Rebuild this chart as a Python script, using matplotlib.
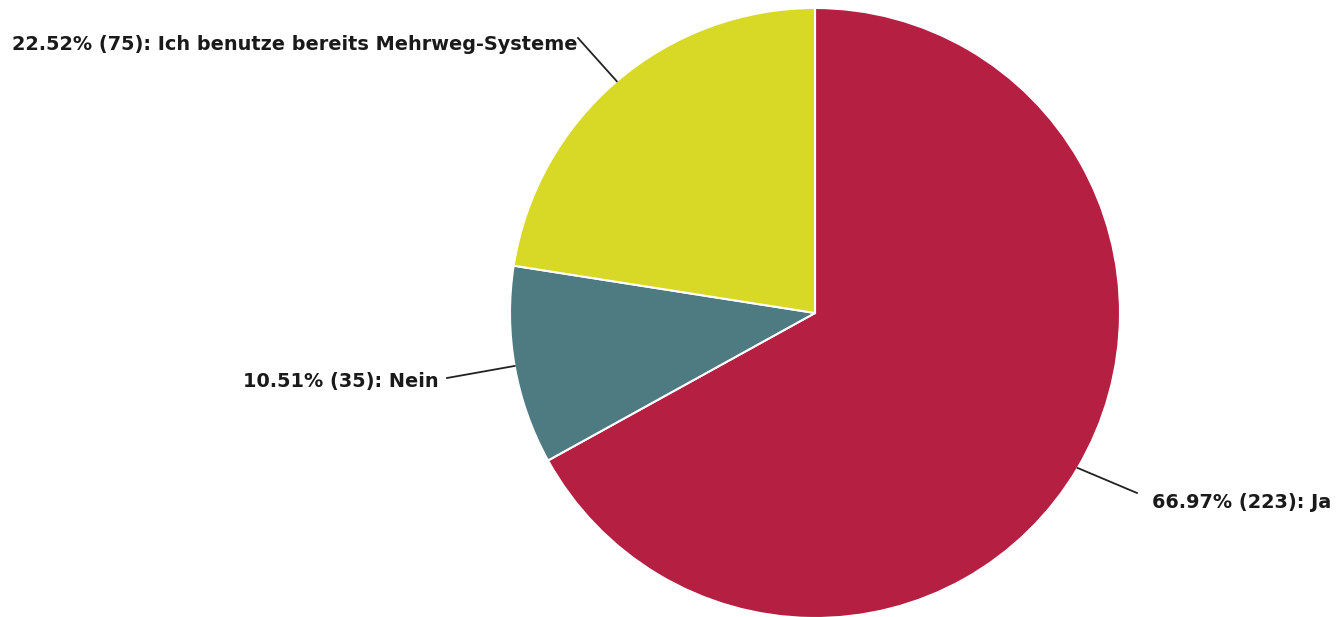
import matplotlib
matplotlib.use("Agg")
import matplotlib.pyplot as plt
import numpy as np

labels = ["Ja", "Nein", "Ich benutze bereits Mehrweg-Systeme"]
counts = [223, 35, 75]
percents = [66.97, 10.51, 22.52]
colors = ["#B51F42", "#4E7A82", "#D8D827"]

# text anchor positions (pixels, origin bottom-left) and leader end points
text_pos = [(1152, 114), (243, 235), (12, 573)]
line_end = [(1137, 124), (447, 239), (578, 579)]

W, H = 1342, 617
cx, cy, R = 815, 304, 305

fig = plt.figure(figsize=(W / 100, H / 100), dpi=100)
ax = fig.add_axes([0, 0, 1, 1])

wedges, _ = ax.pie(counts, colors=colors, startangle=90, counterclock=False,
                   center=(cx, cy), radius=R,
                   wedgeprops=dict(edgecolor="white", linewidth=1.5))

ax.set_xlim(0, W)
ax.set_ylim(0, H)
ax.set_aspect("equal", adjustable="datalim")
ax.axis("off")

for w, lab, n, p, tp, le in zip(wedges, labels, counts, percents,
                                text_pos, line_end):
    ang = np.deg2rad((w.theta1 + w.theta2) / 2)
    px, py = cx + R * np.cos(ang), cy + R * np.sin(ang)
    ax.plot([px, le[0]], [py, le[1]], color="#222222", lw=1.3)
    ax.text(tp[0], tp[1], f"{p:.2f}% ({n}): {lab}", ha="left", va="center",
            fontsize=13.9, fontweight="bold", color="#1a1a1a",
            family="DejaVu Sans")

fig.savefig("out.png", dpi=100)
